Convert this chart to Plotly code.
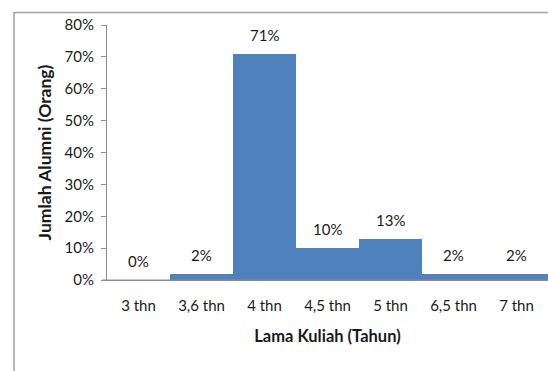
import plotly.graph_objects as go

categories = ["3 thn", "3,6 thn", "4 thn", "4,5 thn", "5 thn", "6,5 thn", "7 thn"]
values = [0, 2, 71, 10, 13, 2, 2]
labels = ["0%", "2%", "71%", "10%", "13%", "2%", "2%"]
y_ticks = [0, 10, 20, 30, 40, 50, 60, 70, 80]

FONT = "Lato"
FS = 15
TXT = "#1a1a1a"
GRAY = "#8c8c8c"

fig = go.Figure()
fig.add_trace(go.Bar(x=categories, y=values, marker=dict(color="#4F81BD", line=dict(width=0)),
                     hoverinfo="skip"))

for c, v, t in zip(categories, values, labels):
    fig.add_annotation(x=c, y=v, text=t, showarrow=False, yshift=19,
                       font=dict(family=FONT, size=FS, color=TXT))

W, H = 548, 371
L, R, T, B = 107, 0, 25, 91
pw, ph = W - L - R, H - T - B

def px2x(p):
    return (p - L) / pw

def py2y(p):
    return (H - B - p) / ph

# chart border
fig.add_shape(type="line", xref="paper", yref="paper", x0=px2x(13.5), x1=px2x(560),
              y0=py2y(12.5), y1=py2y(12.5), line=dict(color="#a0a0a0", width=1.5))
fig.add_shape(type="line", xref="paper", yref="paper", x0=px2x(14), x1=px2x(14),
              y0=py2y(12.5), y1=py2y(380), line=dict(color="#a0a0a0", width=1.5))
# x axis line extension
fig.add_shape(type="line", xref="paper", yref="paper", x0=px2x(102), x1=1,
              y0=0, y1=0, line=dict(color=GRAY, width=1))

fig.update_layout(
    width=W, height=H,
    margin=dict(l=L, r=R, t=T, b=B),
    paper_bgcolor="white", plot_bgcolor="white",
    bargap=0, showlegend=False,
    font=dict(family=FONT, size=FS, color=TXT),
)
fig.update_xaxes(showline=True, linecolor=GRAY, linewidth=1, showgrid=False, ticks="",
                 tickfont=dict(family=FONT, size=FS, color=TXT), ticklabelstandoff=12,
                 title=dict(text="<b>Lama Kuliah (Tahun)</b>", font=dict(family=FONT, size=16.5, color=TXT), standoff=17))
fig.update_yaxes(range=[0, 80], tickvals=y_ticks, ticktext=[f"{v}%" for v in y_ticks],
                 showline=True, linecolor=GRAY, linewidth=1, showgrid=False,
                 ticks="outside", ticklen=5, tickcolor=GRAY, zeroline=False,
                 tickfont=dict(family=FONT, size=FS, color=TXT), ticklabelstandoff=4,
                 title=dict(text="<b>Jumlah Alumni (Orang)</b>", font=dict(family=FONT, size=17.5, color=TXT), standoff=8))

fig.write_html("out.html")
